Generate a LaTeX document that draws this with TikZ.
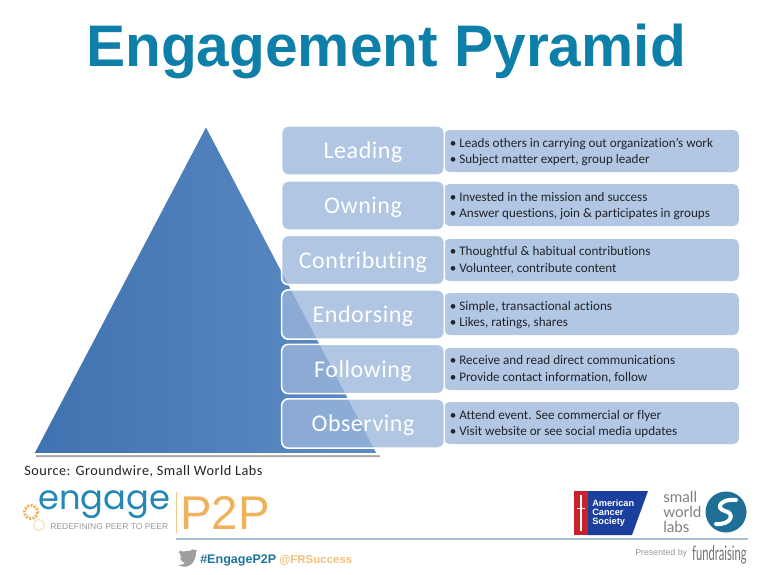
\documentclass[tikz,border=0pt]{standalone}
\usepackage{fontspec}
\setmainfont[Ligatures=NoCommon]{Carlito}
\newfontfamily\titlefont{Liberation Sans}
\newfontfamily\logofont{Lato}
\newfontfamily\geofont{Poppins}
\newfontfamily\labelfont[LetterSpace=2.2,Ligatures=NoCommon]{Carlito}
\newfontfamily\sourcefont[LetterSpace=3.5,Ligatures=NoCommon]{Carlito}
\usetikzlibrary{shadows,calc}
\definecolor{titleblue}{HTML}{0E7FA9}
\definecolor{boxblue}{HTML}{B1C7E3}
\definecolor{labelblue}{HTML}{9AB6DB}
\definecolor{pyrdark}{HTML}{3F72B0}
\definecolor{pyrlight}{HTML}{5E8DC6}
\definecolor{inktext}{HTML}{222428}
\definecolor{engblue}{HTML}{2487B5}
\definecolor{engorange}{HTML}{EFB25A}
\definecolor{rulegrey}{HTML}{A9BDD0}
\definecolor{acsblue}{HTML}{1B3F9C}
\definecolor{acsred}{HTML}{C8232C}
\definecolor{swlblue}{HTML}{1F6F96}
\tikzset{
  x=0.75pt,y=-0.75pt,
  labelbox/.style={draw=white,line width=1.2pt,fill=labelblue,fill opacity=0.78,text opacity=1,rounded corners=5pt,minimum width=122pt,minimum height=37pt,inner sep=0pt,text=white,text depth=0pt,font=\labelfont\fontsize{18}{20}\selectfont},
  descbox/.style={fill=boxblue,rounded corners=4pt,minimum width=221pt,minimum height=31.5pt,inner sep=0pt},
  desctext/.style={anchor=west,text=inktext,font=\fontsize{9.85}{12}\selectfont,align=left,inner sep=0pt},
}
\newcommand{\dsc}[2]{\textbullet\ #1\\[0.2pt]\textbullet\ #2}
\begin{document}
\begin{tikzpicture}
\useasboundingbox (0,0) rectangle (772,575);
\fill[white] (0,0) rectangle (772,575);
\node (title) at (386,51) [inner sep=0pt,text=titleblue,font=\titlefont\bfseries\fontsize{44}{46}\selectfont] {Engagement Pyramid};
% pyramid
\fill[black!35] (36,457) -- (380,457) -- (379,454) -- (36,454) -- cycle;
\draw[white,line width=1.5pt,left color=pyrdark,right color=pyrlight] (206,125) -- (378,454) -- (33,454) -- cycle;
% description boxes
\foreach \n/\y in {a/151,b/205,c/260,d/314,e/369,f/423}{
  \node[descbox] (desc\n) at (591.5,\y) {};
}
\node[desctext] (ta) at (449.5,151.7) {\dsc{Leads others in carrying out organization’s work}{Subject matter expert, group leader}};
\node[desctext] (tb) at (449.5,205.7) {\dsc{Invested in the mission and success}{Answer questions, join \& participates in groups}};
\node[desctext] (tc) at (449.5,260.2) {\dsc{Thoughtful \& habitual contributions}{Volunteer, contribute content}};
\node[desctext] (td) at (449.5,314.7) {\dsc{Simple, transactional actions}{Likes, ratings, shares}};
\node[desctext] (te) at (449.5,369.2) {\dsc{Receive and read direct communications}{Provide contact information, follow}};
\node[desctext] (tf) at (449.5,423.7) {\dsc{Attend event. See commercial or flyer}{Visit website or see social media updates}};
% label boxes
\node[labelbox] (leading) at (363,150.5) {Leading};
\node[labelbox] (owning) at (363,205.5) {Owning};
\node[labelbox] (contributing) at (363,260) {Contributing};
\node[labelbox] (endorsing) at (363,314.5) {Endorsing};
\node[labelbox] (following) at (363,369) {Following};
\node[labelbox] (observing) at (363,423.5) {Observing};
\node (source) at (24,471.5) [anchor=west,inner sep=0pt,text=inktext,font=\sourcefont\fontsize{10.7}{12}\selectfont] {Source: Groundwire, Small World Labs};
% engage logo
\node (engage) at (38,505) [anchor=west,inner sep=0pt,text=engblue,font=\geofont\fontsize{25.3}{28}\selectfont] {engage};
\node (redef) at (50,527) [anchor=west,inner sep=0pt,text=black!40,font=\titlefont\fontsize{6.4}{8}\selectfont] {REDEFINING PEER TO PEER};
\node (ptp) at (180,513) [anchor=west,inner sep=0pt,text=engorange,font=\titlefont\fontsize{35.5}{38}\selectfont] {P2P};
\draw[engorange!70,line width=0.7pt] (176,492) -- (176,533);
\draw[engorange,line width=2.2pt,dash pattern=on 1.5pt off 1pt] (31,512) circle (6.5);
\draw[engorange!35,line width=1pt] (39,525) circle (5.5);
\draw[rulegrey,line width=0.9pt] (176,539) -- (748,539);
% twitter bird
\fill[black!38] (178,552) .. controls (186,557) and (190,556) .. (192,553) .. controls (193,551) and (195,551) .. (197,550) .. controls (196,550) and (195,550) .. (195,550) .. controls (192,548) and (189,551) .. (189,554) .. controls (185,554) and (182,552) .. (180,550) .. controls (179,553) and (180,556) .. (182,558) -- (180,557) .. controls (181,561) and (183,563) .. (185,563) .. controls (183,565) and (180,565) .. (178,565) .. controls (187,570) and (196,564) .. (196,552) -- (197,550) -- cycle;
\node (hash) at (200,560) [anchor=west,inner sep=0pt,text=engblue!85!black,font=\titlefont\bfseries\fontsize{9.4}{10}\selectfont] {\#EngageP2P};
\node (frs) at (279,560) [anchor=west,inner sep=0pt,text=engorange!80,font=\titlefont\bfseries\fontsize{8.6}{10}\selectfont] {@FRSuccess};
% ACS logo
\fill[acsred] (574,491) rectangle (588,535);
\fill[acsblue] (588,491) -- (648,491) -- (632,535) -- (588,535) -- cycle;
\draw[white,line width=1.1pt] (581,495) -- (581,531);
\draw[white,line width=0.6pt] (577,508) -- (585,508);
\node (acs) at (592,513) [anchor=west,inner sep=0pt,text=white,align=left,font=\titlefont\bfseries\fontsize{6.9}{6.8}\selectfont] {American\\Cancer\\Society};
% small world labs
\node (swl) at (663,512) [anchor=west,inner sep=0pt,text=black!50,align=left,font=\logofont\fontsize{11.4}{11.5}\selectfont] {small\\world\\labs};
\fill[swlblue] (726,512) circle (20.5);
\draw[white,line width=3pt,line cap=round] (736,500) .. controls (722,498) and (714,508) .. (725,511) .. controls (735,513) and (732,525) .. (716,524);
\node (pres) at (635,553) [anchor=west,inner sep=0pt,text=black!40,font=\titlefont\fontsize{6.6}{7}\selectfont] {Presented by};
\node (fund) at (692,555) [anchor=west,inner sep=0pt,text=black!55,font=\logofont\fontsize{15}{16}\selectfont,xscale=0.56,transform shape] {fundraising};
\end{tikzpicture}
\end{document}
